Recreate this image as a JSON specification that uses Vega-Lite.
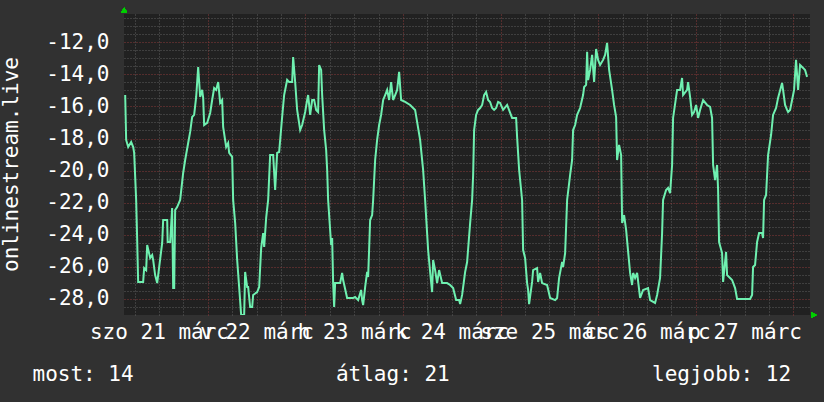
{
  "$schema": "https://vega.github.io/schema/vega-lite/v6.json",
  "width": 686,
  "height": 301,
  "autosize": {"type": "none"},
  "padding": {"left": 124, "top": 14, "right": 14, "bottom": 87},
  "background": "#313131",
  "config": {"view": {"fill": "#212121", "stroke": null}, "font": "DejaVu Sans Mono"},
  "data": {"values": [
    {"h":3.69,"v":-15.29},{"h":3.93,"v":-18.09},{"h":4.43,"v":-18.53},{"h":5.16,"v":-18.22},{"h":5.66,"v":-18.53},{"h":5.90,"v":-18.90},{"h":6.39,"v":-21.83},{"h":6.64,"v":-24.33},{"h":6.88,"v":-26.94},{"h":8.11,"v":-26.94},{"h":8.36,"v":-26.07},{"h":8.85,"v":-26.20},{"h":9.10,"v":-24.64},{"h":9.84,"v":-25.45},{"h":10.33,"v":-25.26},{"h":10.57,"v":-25.57},{"h":11.06,"v":-26.51},{"h":11.56,"v":-27.01},{"h":12.05,"v":-26.01},{"h":12.79,"v":-24.51},{"h":13.03,"v":-23.08},{"h":14.02,"v":-23.08},{"h":14.14,"v":-24.45},{"h":14.75,"v":-24.45},{"h":15.24,"v":-22.33},{"h":15.49,"v":-27.32},{"h":15.74,"v":-27.32},{"h":15.98,"v":-22.46},{"h":16.47,"v":-22.27},{"h":17.21,"v":-21.83},{"h":17.95,"v":-20.15},{"h":18.44,"v":-19.34},{"h":19.18,"v":-18.28},{"h":19.67,"v":-17.59},{"h":20.16,"v":-16.66},{"h":20.65,"v":-16.53},{"h":21.15,"v":-15.41},{"h":21.64,"v":-13.54},{"h":22.13,"v":-15.41},{"h":22.62,"v":-14.97},{"h":22.87,"v":-15.47},{"h":23.11,"v":-17.16},{"h":23.85,"v":-17.03},{"h":24.59,"v":-16.41},{"h":25.08,"v":-15.60},{"h":25.57,"v":-14.85},{"h":26.06,"v":-14.97},{"h":26.56,"v":-14.48},{"h":27.05,"v":-15.78},{"h":27.54,"v":-15.60},{"h":27.78,"v":-17.28},{"h":28.52,"v":-18.53},{"h":29.01,"v":-18.28},{"h":29.26,"v":-18.90},{"h":30.00,"v":-19.15},{"h":30.24,"v":-21.83},{"h":30.74,"v":-23.27},{"h":31.23,"v":-25.57},{"h":31.72,"v":-27.26},{"h":32.21,"v":-29.00},{"h":32.95,"v":-29.00},{"h":33.19,"v":-26.32},{"h":33.69,"v":-27.26},{"h":33.93,"v":-27.26},{"h":34.42,"v":-28.50},{"h":34.92,"v":-28.50},{"h":35.16,"v":-27.75},{"h":36.14,"v":-27.57},{"h":36.64,"v":-27.26},{"h":37.13,"v":-24.83},{"h":37.62,"v":-23.89},{"h":37.87,"v":-24.76},{"h":38.36,"v":-22.95},{"h":38.85,"v":-21.83},{"h":39.34,"v":-19.03},{"h":40.08,"v":-19.03},{"h":40.57,"v":-21.21},{"h":41.06,"v":-18.90},{"h":41.55,"v":-18.84},{"h":42.29,"v":-16.66},{"h":42.78,"v":-15.29},{"h":43.52,"v":-14.35},{"h":44.01,"v":-14.48},{"h":44.75,"v":-14.48},{"h":45.00,"v":-12.92},{"h":45.49,"v":-14.48},{"h":45.98,"v":-16.22},{"h":46.72,"v":-17.47},{"h":47.21,"v":-17.16},{"h":47.95,"v":-16.35},{"h":48.44,"v":-15.60},{"h":48.68,"v":-15.29},{"h":49.18,"v":-16.53},{"h":49.67,"v":-15.60},{"h":50.16,"v":-15.60},{"h":50.65,"v":-16.22},{"h":51.14,"v":-16.35},{"h":51.39,"v":-13.42},{"h":51.88,"v":-13.73},{"h":52.13,"v":-15.29},{"h":52.62,"v":-17.47},{"h":53.11,"v":-18.71},{"h":53.36,"v":-19.96},{"h":53.60,"v":-21.83},{"h":54.34,"v":-24.64},{"h":54.59,"v":-24.20},{"h":54.83,"v":-27.01},{"h":55.08,"v":-28.50},{"h":55.32,"v":-27.01},{"h":56.55,"v":-27.01},{"h":57.04,"v":-26.38},{"h":57.29,"v":-26.82},{"h":58.27,"v":-27.94},{"h":59.75,"v":-27.94},{"h":60.24,"v":-27.88},{"h":60.98,"v":-28.07},{"h":61.72,"v":-27.44},{"h":61.96,"v":-28.07},{"h":62.21,"v":-28.38},{"h":62.70,"v":-27.26},{"h":63.19,"v":-26.32},{"h":63.44,"v":-26.63},{"h":63.93,"v":-23.08},{"h":64.42,"v":-22.77},{"h":64.67,"v":-21.83},{"h":65.16,"v":-19.34},{"h":65.65,"v":-18.09},{"h":66.14,"v":-17.16},{"h":66.63,"v":-16.53},{"h":67.13,"v":-15.60},{"h":67.62,"v":-15.29},{"h":68.11,"v":-14.97},{"h":68.60,"v":-15.60},{"h":69.09,"v":-14.48},{"h":69.58,"v":-15.60},{"h":70.08,"v":-15.29},{"h":70.57,"v":-14.97},{"h":71.06,"v":-13.85},{"h":71.55,"v":-15.60},{"h":72.54,"v":-15.72},{"h":73.77,"v":-15.91},{"h":74.99,"v":-16.22},{"h":76.22,"v":-18.09},{"h":76.96,"v":-19.96},{"h":77.45,"v":-21.83},{"h":77.70,"v":-22.89},{"h":78.19,"v":-24.95},{"h":78.68,"v":-26.32},{"h":79.17,"v":-27.57},{"h":79.42,"v":-25.57},{"h":79.91,"v":-26.20},{"h":80.40,"v":-27.01},{"h":80.89,"v":-26.20},{"h":81.63,"v":-27.01},{"h":82.86,"v":-27.01},{"h":83.60,"v":-27.13},{"h":84.34,"v":-27.32},{"h":85.08,"v":-28.07},{"h":85.81,"v":-28.07},{"h":86.06,"v":-28.32},{"h":86.55,"v":-27.75},{"h":87.29,"v":-26.32},{"h":87.78,"v":-25.70},{"h":88.52,"v":-23.27},{"h":89.01,"v":-21.83},{"h":89.26,"v":-20.27},{"h":89.50,"v":-17.47},{"h":89.99,"v":-16.53},{"h":90.48,"v":-16.22},{"h":90.98,"v":-16.10},{"h":91.47,"v":-15.91},{"h":91.96,"v":-15.29},{"h":92.45,"v":-15.10},{"h":92.94,"v":-15.60},{"h":93.43,"v":-15.72},{"h":93.93,"v":-16.10},{"h":94.42,"v":-16.22},{"h":94.91,"v":-16.10},{"h":95.40,"v":-15.72},{"h":95.89,"v":-15.78},{"h":96.63,"v":-16.22},{"h":97.62,"v":-15.91},{"h":98.84,"v":-16.72},{"h":99.83,"v":-16.72},{"h":100.07,"v":-17.90},{"h":100.57,"v":-19.96},{"h":101.06,"v":-21.21},{"h":101.30,"v":-21.83},{"h":101.55,"v":-24.95},{"h":102.04,"v":-25.45},{"h":102.53,"v":-27.01},{"h":102.78,"v":-27.44},{"h":103.02,"v":-28.32},{"h":103.76,"v":-26.94},{"h":104.01,"v":-26.20},{"h":104.99,"v":-26.07},{"h":105.24,"v":-26.94},{"h":105.73,"v":-26.38},{"h":106.22,"v":-27.01},{"h":107.45,"v":-27.13},{"h":108.19,"v":-27.94},{"h":109.42,"v":-28.07},{"h":109.91,"v":-27.94},{"h":110.40,"v":-26.69},{"h":111.14,"v":-25.70},{"h":111.38,"v":-26.01},{"h":111.88,"v":-25.14},{"h":112.37,"v":-21.83},{"h":113.11,"v":-20.27},{"h":113.60,"v":-19.34},{"h":113.84,"v":-17.47},{"h":114.34,"v":-17.16},{"h":114.83,"v":-16.53},{"h":115.56,"v":-16.10},{"h":116.30,"v":-15.29},{"h":116.55,"v":-14.79},{"h":117.04,"v":-14.66},{"h":117.29,"v":-12.60},{"h":117.53,"v":-14.35},{"h":118.02,"v":-13.73},{"h":118.52,"v":-12.79},{"h":119.01,"v":-14.48},{"h":119.50,"v":-12.42},{"h":119.99,"v":-13.10},{"h":120.48,"v":-13.42},{"h":121.22,"v":-13.10},{"h":121.71,"v":-12.79},{"h":122.20,"v":-12.04},{"h":122.70,"v":-13.73},{"h":123.43,"v":-14.97},{"h":123.92,"v":-15.91},{"h":124.42,"v":-16.66},{"h":124.66,"v":-19.34},{"h":125.15,"v":-18.40},{"h":125.65,"v":-19.03},{"h":125.90,"v":-23.27},{"h":126.38,"v":-22.77},{"h":126.88,"v":-23.70},{"h":127.86,"v":-26.38},{"h":128.35,"v":-27.13},{"h":128.60,"v":-26.38},{"h":129.09,"v":-26.69},{"h":129.58,"v":-26.38},{"h":130.32,"v":-27.94},{"h":131.06,"v":-27.44},{"h":132.28,"v":-27.32},{"h":132.78,"v":-28.07},{"h":134.00,"v":-28.25},{"h":134.50,"v":-27.75},{"h":135.23,"v":-26.69},{"h":135.73,"v":-23.89},{"h":135.97,"v":-21.83},{"h":136.71,"v":-21.21},{"h":137.20,"v":-21.08},{"h":137.69,"v":-21.40},{"h":138.19,"v":-19.65},{"h":138.43,"v":-16.72},{"h":139.42,"v":-14.97},{"h":140.15,"v":-14.97},{"h":140.64,"v":-14.23},{"h":140.89,"v":-15.29},{"h":141.87,"v":-14.97},{"h":142.12,"v":-14.48},{"h":142.61,"v":-15.41},{"h":143.10,"v":-16.53},{"h":143.59,"v":-16.35},{"h":144.09,"v":-15.91},{"h":144.58,"v":-16.72},{"h":145.07,"v":-16.22},{"h":145.81,"v":-15.60},{"h":146.79,"v":-15.91},{"h":147.53,"v":-16.03},{"h":148.02,"v":-16.72},{"h":148.27,"v":-19.65},{"h":148.76,"v":-20.59},{"h":149.25,"v":-19.65},{"h":149.50,"v":-21.21},{"h":149.74,"v":-24.45},{"h":150.48,"v":-25.14},{"h":150.73,"v":-26.94},{"h":151.46,"v":-25.07},{"h":151.71,"v":-26.51},{"h":152.94,"v":-26.82},{"h":153.68,"v":-27.32},{"h":154.17,"v":-28.00},{"h":157.36,"v":-28.00},{"h":157.86,"v":-27.75},{"h":158.10,"v":-26.01},{"h":158.59,"v":-25.88},{"h":159.09,"v":-24.45},{"h":159.58,"v":-23.89},{"h":160.31,"v":-23.89},{"h":160.56,"v":-24.20},{"h":160.81,"v":-21.83},{"h":161.30,"v":-21.52},{"h":161.79,"v":-19.03},{"h":162.53,"v":-17.78},{"h":163.02,"v":-16.53},{"h":163.76,"v":-16.10},{"h":164.25,"v":-15.47},{"h":165.23,"v":-14.54},{"h":165.48,"v":-14.97},{"h":165.97,"v":-15.91},{"h":166.46,"v":-16.22},{"h":166.71,"v":-16.35},{"h":167.20,"v":-16.22},{"h":167.94,"v":-15.29},{"h":168.18,"v":-14.97},{"h":168.67,"v":-13.10},{"h":169.17,"v":-14.97},{"h":169.66,"v":-13.42},{"h":170.40,"v":-13.60},{"h":170.89,"v":-13.73},{"h":171.38,"v":-14.16}
  ]},
  "resolve": {"axis": {"x": "independent", "y": "independent"}},
  "layer": [
    {
      "mark": {"type": "line", "color": "#6ff0b0", "strokeWidth": 2, "clip": true},
      "encoding": {
        "x": {
          "field": "h", "type": "quantitative",
          "scale": {"domain": [3.4, 172.1], "nice": false, "zero": false},
          "axis": {
            "values": [6,12,18,24,30,36,42,48,54,60,66,72,78,84,90,96,102,108,114,120,126,132,138,144,150,156,162,168],
            "grid": true,
            "gridColor": {"condition": {"test": "datum.value % 24 === 0", "value": "#8a3a3a"}, "value": "#5e5e5e"},
            "gridDash": [1, 2],
            "gridWidth": 1,
            "ticks": false, "domain": false,
            "labelExpr": "datum.value % 24 === 12 ? ['szo','v','h','k','sze','cs','p'][floor(datum.value / 24)] + ' ' + (21 + floor(datum.value / 24)) + ' márc' : ''",
            "labelOverlap": false, "labelFlush": false, "labelBound": false,
            "labelFont": "DejaVu Sans Mono", "labelFontSize": 21, "labelColor": "#ffffff", "labelPadding": 6,
            "title": "most: 14\u00a0\u00a0\u00a0\u00a0\u00a0\u00a0\u00a0\u00a0\u00a0\u00a0\u00a0\u00a0\u00a0\u00a0\u00a0\u00a0átlag: 21\u00a0\u00a0\u00a0\u00a0\u00a0\u00a0\u00a0\u00a0\u00a0\u00a0\u00a0\u00a0\u00a0\u00a0\u00a0\u00a0legjobb: 12",
            "titleFont": "DejaVu Sans Mono", "titleFontSize": 21, "titleFontWeight": "normal", "titleColor": "#ffffff",
            "titleAlign": "left", "titleBaseline": "alphabetic", "titleX": -92, "titleY": 65
          }
        },
        "y": {
          "field": "v", "type": "quantitative",
          "scale": {"domain": [-29, -10.24], "nice": false, "zero": false},
          "axis": {
            "values": [-28.5,-28,-27.5,-27,-26.5,-26,-25.5,-25,-24.5,-24,-23.5,-23,-22.5,-22,-21.5,-21,-20.5,-20,-19.5,-19,-18.5,-18,-17.5,-17,-16.5,-16,-15.5,-15,-14.5,-14,-13.5,-13,-12.5,-12,-11.5,-11,-10.5],
            "grid": true,
            "gridColor": {"condition": {"test": "datum.value % 2 === 0", "value": "#8a3a3a"}, "value": "#5e5e5e"},
            "gridDash": [1, 2],
            "gridWidth": 1,
            "ticks": false, "domain": false,
            "labelExpr": "datum.value % 2 === 0 ? '-' + abs(datum.value) + ',0' : ''",
            "labelOverlap": false, "labelFlush": false, "labelBound": false,
            "labelFont": "DejaVu Sans Mono", "labelFontSize": 21, "labelColor": "#ffffff", "labelPadding": 15,
            "title": "onlinestream.live",
            "titleFont": "DejaVu Sans Mono", "titleFontSize": 21, "titleFontWeight": "normal", "titleColor": "#ffffff",
            "titleAngle": -90, "titleAlign": "center", "titleBaseline": "alphabetic", "titleX": -107, "titleY": 150
          }
        }
      }
    },
    {
      "mark": {"type": "point", "shape": "triangle-up", "filled": true, "color": "#00d000", "opacity": 1, "size": 30, "yOffset": -4},
      "encoding": {"x": {"datum": 3.45, "type": "quantitative", "axis": null}, "y": {"datum": -10.24, "type": "quantitative", "axis": null}}
    },
    {
      "mark": {"type": "point", "shape": "triangle-right", "filled": true, "color": "#00d000", "opacity": 1, "size": 30, "xOffset": 4},
      "encoding": {"x": {"datum": 172.1, "type": "quantitative", "axis": null}, "y": {"datum": -29, "type": "quantitative", "axis": null}}
    }
  ]
}
